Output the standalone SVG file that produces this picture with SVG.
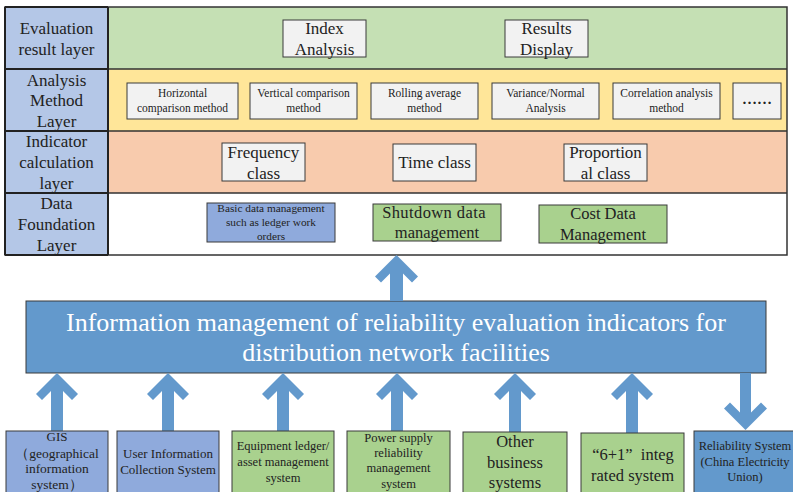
<svg xmlns="http://www.w3.org/2000/svg" width="793" height="492" viewBox="0 0 793 492" font-family="'Liberation Serif', 'Times New Roman', 'DejaVu Serif', serif">
<style>
text{font-family:'Liberation Serif','Times New Roman','DejaVu Serif',serif;fill:#222;text-anchor:middle}
.lab{font-size:17px}
.box{fill:#f2f2f2;stroke:#3a3a3a;stroke-width:1}
.m{font-size:11.5px}
.big{font-size:17px}
.blue{fill:#8faadc;stroke:#3a3a3a;stroke-width:1}
.green{fill:#a9d18e;stroke:#3a3a3a;stroke-width:1}
.dblue{fill:#6399cc;stroke:#3a3a3a;stroke-width:1}
.arr{fill:#6399cc}
.s13{font-size:13px}
.s12{font-size:12.5px}
.s16{font-size:16.5px}
</style>
<rect width="793" height="492" fill="#fff"/>
<g id="layers">
<rect x="108" y="7" width="679" height="62" fill="#c5e0b4"/>
<rect x="108" y="69" width="679" height="62" fill="#ffe699"/>
<rect x="108" y="131" width="679" height="62" fill="#f8cbad"/>
<rect x="108" y="193" width="679" height="62" fill="#ffffff"/>
<rect x="5" y="7" width="103" height="248" fill="#b4c7e7"/>
<rect x="5" y="7" width="782" height="248" fill="none" stroke="#333" stroke-width="1.5"/>
<path d="M5 69H787M5 131H787M5 193H787" stroke="#333" stroke-width="1.5"/>
<path d="M108 7V255" stroke="#222" stroke-width="2"/>
<path d="M5 7V255M5 7H108M5 69H108M5 131H108M5 193H108M5 255H108" stroke="#222" stroke-width="2" fill="none"/>
<text class="lab" x="56.5" y="34">Evaluation</text>
<text class="lab" x="56.5" y="55">result layer</text>
<text class="lab" x="56.5" y="86">Analysis</text>
<text class="lab" x="56.5" y="106">Method</text>
<text class="lab" x="56.5" y="127">Layer</text>
<text class="lab" x="56.5" y="147">Indicator</text>
<text class="lab" x="56.5" y="168">calculation</text>
<text class="lab" x="56.5" y="189">layer</text>
<text class="lab" x="56.5" y="209">Data</text>
<text class="lab" x="56.5" y="230">Foundation</text>
<text class="lab" x="56.5" y="251">Layer</text>
</g>
<g id="index-analysis">
<rect class="box" x="283" y="20" width="83" height="37"/>
<text class="big" x="324.5" y="34">Index</text>
<text class="big" x="324.5" y="55">Analysis</text>
</g>
<g id="results-display">
<rect class="box" x="505" y="20" width="83" height="37"/>
<text class="big" x="546.5" y="34">Results</text>
<text class="big" x="546.5" y="55">Display</text>
</g>
<g id="horizontal">
<rect class="box" x="127" y="83" width="111" height="36"/>
<text class="m" x="182.5" y="97">Horizontal</text>
<text class="m" x="182.5" y="112">comparison method</text>
</g>
<g id="vertical">
<rect class="box" x="250" y="83" width="107" height="36"/>
<text class="m" x="303.5" y="97">Vertical comparison</text>
<text class="m" x="303.5" y="112">method</text>
</g>
<g id="rolling">
<rect class="box" x="371" y="83" width="107" height="36"/>
<text class="m" x="424.5" y="97">Rolling average</text>
<text class="m" x="424.5" y="112">method</text>
</g>
<g id="variance">
<rect class="box" x="492" y="83" width="107" height="36"/>
<text class="m" x="545.5" y="97">Variance/Normal</text>
<text class="m" x="545.5" y="112">Analysis</text>
</g>
<g id="correlation">
<rect class="box" x="613" y="83" width="107" height="36"/>
<text class="m" x="666.5" y="97">Correlation analysis</text>
<text class="m" x="666.5" y="112">method</text>
</g>
<g id="more">
<rect class="box" x="733" y="83" width="48" height="36"/>
<text x="757" y="104" style="font-size:15px;font-weight:bold">……</text>
</g>
<g id="frequency">
<rect class="box" x="222" y="143" width="83" height="38"/>
<text class="big" x="263.5" y="158">Frequency</text>
<text class="big" x="263.5" y="179">class</text>
</g>
<g id="time">
<rect class="box" x="393" y="144" width="83" height="37"/>
<text class="big" x="434.5" y="168">Time class</text>
</g>
<g id="proportional">
<rect class="box" x="564" y="144" width="83" height="37"/>
<text class="big" x="605.5" y="158">Proportion</text>
<text class="big" x="605.5" y="179">al class</text>
</g>
<g id="basic-data">
<rect class="blue" x="207" y="203" width="128" height="39"/>
<text x="271" y="212" style="font-size:11.3px">Basic data management</text>
<text x="271" y="226" style="font-size:11.3px">such as ledger work</text>
<text x="271" y="240" style="font-size:11.3px">orders</text>
</g>
<g id="shutdown">
<rect class="green" x="373" y="204" width="128" height="37"/>
<text class="s16" x="434" y="218" style="letter-spacing:0.4px">Shutdown data</text>
<text class="s16" x="437" y="238">management</text>
</g>
<g id="cost">
<rect class="green" x="539" y="205" width="128" height="38"/>
<text class="s16" x="603" y="219">Cost Data</text>
<text class="s16" x="603" y="240">Management</text>
</g>
<g id="main">
<rect x="26" y="301" width="740" height="72" fill="#6399cc" stroke="#3a3a3a" stroke-width="1"/>
<text x="396" y="331" style="font-size:26px;fill:#fff">Information management of reliability evaluation indicators for</text>
<text x="396" y="361" style="font-size:26px;fill:#fff">distribution network facilities</text>
</g>
<g id="connectors">
<polygon class="arr" points="396.5,255 418,276.5 412,282.5 403,273.5 403,301 390,301 390,273.5 381,282.5 375,276.5"/>
<polygon class="arr" points="57,373 78,394 72,400 63,391 63,431 51,431 51,391 42,400 36,394"/>
<polygon class="arr" points="168,373 189,394 183,400 174,391 174,431 162,431 162,391 153,400 147,394"/>
<polygon class="arr" points="283,373 304,394 298,400 289,391 289,431 277,431 277,391 268,400 262,394"/>
<polygon class="arr" points="397,373 418,394 412,400 403,391 403,431 391,431 391,391 382,400 376,394"/>
<polygon class="arr" points="515,373 536,394 530,400 521,391 521,432 509,432 509,391 500,400 494,394"/>
<polygon class="arr" points="632,373 653,394 647,400 638,391 638,433 626,433 626,391 617,400 611,394"/>
<polygon class="arr" points="745.5,430 767,408.5 761,402.5 751,412.5 751,373 740,373 740,412.5 730,402.5 724,408.5"/>
</g>
<g id="gis">
<rect class="blue" x="6" y="431" width="102" height="70"/>
<text class="s13" x="57" y="441">GIS</text>
<text class="s13" x="57" y="458" style="font-size:13.5px">（geographical</text>
<text class="s13" x="57" y="473" style="font-size:13.5px">information</text>
<text class="s13" x="57" y="489" style="font-size:13.5px">system）</text>
</g>
<g id="user-info">
<rect class="blue" x="117" y="431" width="102" height="70"/>
<text class="s13" x="168" y="458">User Information</text>
<text class="s13" x="168" y="474">Collection System</text>
</g>
<g id="equipment">
<rect class="green" x="232" y="431" width="102" height="70"/>
<text class="s12" x="283" y="450">Equipment ledger/</text>
<text class="s12" x="283" y="466">asset management</text>
<text class="s12" x="283" y="482">system</text>
</g>
<g id="power-supply">
<rect class="green" x="347" y="431" width="103" height="70"/>
<text class="s12" x="398.5" y="442">Power supply</text>
<text class="s12" x="398.5" y="457">reliability</text>
<text class="s12" x="398.5" y="472">management</text>
<text class="s12" x="398.5" y="488">system</text>
</g>
<g id="other">
<rect class="green" x="463" y="432" width="104" height="70"/>
<text class="s16" x="515" y="447">Other</text>
<text class="s16" x="515" y="468">business</text>
<text class="s16" x="515" y="488">systems</text>
</g>
<g id="integrated">
<rect class="green" x="581" y="433" width="103" height="70"/>
<text class="s16" x="633" y="460" xml:space="preserve">“6+1”  integ</text>
<text class="s16" x="632.5" y="481">rated system</text>
</g>
<g id="reliability-system">
<rect class="dblue" x="694" y="431" width="110" height="70"/>
<text class="s12" x="745" y="450">Reliability System</text>
<text class="s12" x="745" y="466">(China Electricity</text>
<text class="s12" x="745" y="481">Union)</text>
</g>
</svg>
